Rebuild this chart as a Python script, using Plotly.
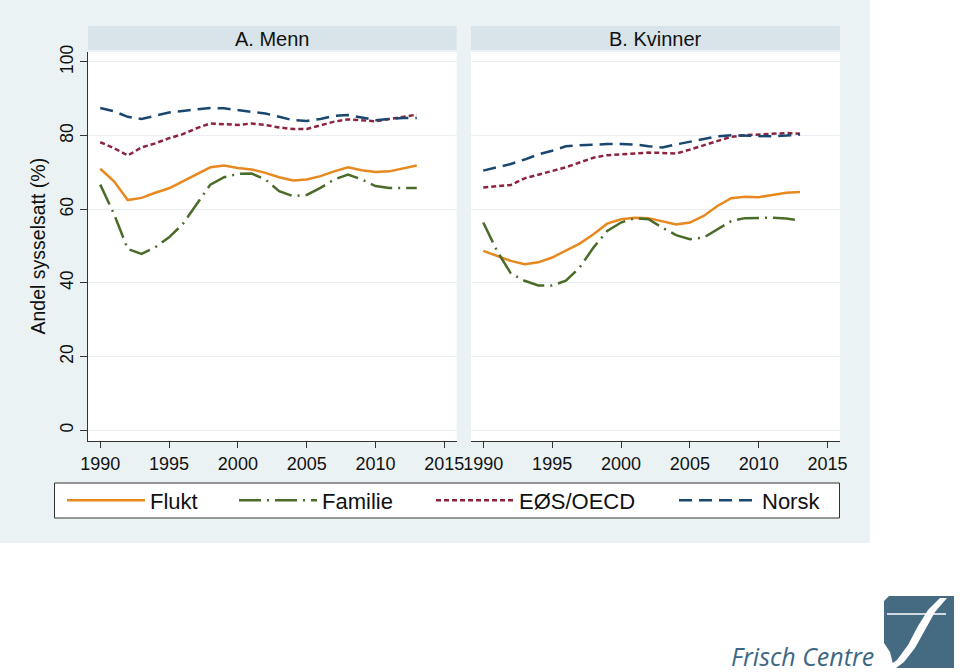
import plotly.graph_objects as go

years = list(range(1990, 2014))

menn_flukt = [71.0, 67.6, 62.5, 63.1, 64.5, 65.7, 67.6, 69.4, 71.4, 71.9, 71.2, 70.8,
              69.9, 68.7, 67.8, 68.1, 69.0, 70.3, 71.4, 70.6, 70.1, 70.3, 71.2, 71.9]
menn_familie = [66.7, 58.7, 49.2, 47.9, 49.7, 52.4, 56.0, 61.3, 66.7, 68.7, 69.6, 69.7,
                68.1, 64.9, 63.6, 63.9, 65.8, 68.1, 69.4, 68.1, 66.3, 65.8, 65.8, 65.8]
menn_eos = [78.2, 76.6, 74.6, 76.8, 77.9, 79.3, 80.4, 82.0, 83.3, 83.0, 82.9, 83.3,
            82.9, 82.2, 81.8, 81.8, 82.9, 83.8, 84.4, 84.2, 83.9, 84.5, 85.1, 85.7]
menn_norsk = [87.5, 86.6, 85.1, 84.5, 85.4, 86.3, 86.7, 87.2, 87.5, 87.4, 86.9, 86.6,
              86.0, 85.1, 84.2, 84.0, 84.5, 85.4, 85.6, 84.9, 84.2, 84.5, 84.8, 84.8]

kvinner_flukt = [48.7, 47.4, 46.0, 45.1, 45.6, 46.9, 48.7, 50.7, 53.2, 56.1, 57.3, 57.7,
                 57.6, 56.8, 55.9, 56.4, 58.2, 60.9, 63.0, 63.4, 63.3, 63.9, 64.5, 64.7]
kvinner_familie = [56.4, 48.7, 42.6, 40.6, 39.3, 39.3, 40.6, 44.2, 49.6, 54.1, 56.4, 57.6,
                   57.3, 55.0, 53.0, 51.9, 52.3, 54.6, 56.8, 57.6, 57.7, 57.7, 57.5, 57.0]
kvinner_eos = [65.9, 66.3, 66.6, 68.4, 69.5, 70.4, 71.4, 72.8, 74.0, 74.7, 75.0, 75.3,
               75.4, 75.3, 75.1, 76.2, 77.4, 78.5, 79.7, 80.1, 80.3, 80.5, 80.7, 80.5]
kvinner_norsk = [70.5, 71.4, 72.3, 73.5, 74.9, 75.9, 77.1, 77.4, 77.6, 77.7, 77.7, 77.6,
                 77.1, 76.8, 77.6, 78.3, 79.2, 79.8, 80.1, 80.0, 79.8, 79.8, 80.0, 80.3]

series_names = ["Flukt", "Familie", "EØS/OECD", "Norsk"]
panel_titles = ["A. Menn", "B. Kvinner"]
x_ticks = [1990, 1995, 2000, 2005, 2010, 2015]
y_ticks = [0, 20, 40, 60, 80, 100]
y_title = "Andel sysselsatt (%)"
logo_text = "Frisch Centre"

panels = [
    [menn_flukt, menn_familie, menn_eos, menn_norsk],
    [kvinner_flukt, kvinner_familie, kvinner_eos, kvinner_norsk],
]

colors = ["#E8891F", "#4B6B28", "#8C2440", "#1A476F"]
dashes = ["solid", "22px,6px,2px,6px", "5px,3px", "13px,7px"]

FONT = "Liberation Sans, Arial, sans-serif"
W, H = 960, 672
ML, MR, MT, MB = 88, 120, 52, 231
PW = W - ML - MR
PH = H - MT - MB


def X(px):
    return (px - ML) / PW


def Y(py):
    return (H - MB - py) / PH


fig = go.Figure()

legend_ids = ["legend", "legend2", "legend3", "legend4"]
for p, data in enumerate(panels):
    xa = "x" if p == 0 else "x2"
    ya = "y" if p == 0 else "y2"
    for i, vals in enumerate(data):
        fig.add_trace(go.Scatter(
            x=years, y=vals, mode="lines", name=series_names[i],
            line=dict(color=colors[i], width=2.5, dash=dashes[i]),
            xaxis=xa, yaxis=ya, showlegend=(p == 0),
            legend=legend_ids[i], hoverinfo="skip",
        ))

shapes = []
# outer graph region
shapes.append(dict(type="rect", xref="paper", yref="paper", x0=X(0), x1=X(870),
                   y0=Y(543), y1=Y(0), fillcolor="#EAF2F3", line_width=0, layer="below"))
# plot areas (white) and title bars
for (a, b) in [(88, 456.7), (471, 840)]:
    shapes.append(dict(type="rect", xref="paper", yref="paper", x0=X(a), x1=X(b),
                       y0=Y(441), y1=Y(52), fillcolor="white", line_width=0, layer="below"))
    shapes.append(dict(type="rect", xref="paper", yref="paper", x0=X(a), x1=X(b),
                       y0=Y(50), y1=Y(26), fillcolor="#D8E4EA", line_width=0, layer="below"))
# legend box
shapes.append(dict(type="rect", xref="paper", yref="paper", x0=X(54.5), x1=X(839.5),
                   y0=Y(518), y1=Y(483), fillcolor="white",
                   line=dict(color="#333333", width=1), layer="below"))


# logo icon
def P(pts):
    return " ".join(("M" if k == 0 else "L") + f"{X(a):.5f},{Y(b):.5f}"
                    for k, (a, b) in enumerate(pts)) + " Z"


icon = [(889, 596), (954, 596), (954, 668), (884, 668), (884, 601)]
shapes.append(dict(type="path", xref="paper", yref="paper", path=P(icon),
                   fillcolor="#446B82", line_width=0))
swoosh = [(940, 598), (947, 598), (935, 612), (925, 630), (915, 648), (904, 662), (896, 668),
          (886, 668), (897, 660), (908, 645), (918, 626), (928, 610)]
shapes.append(dict(type="path", xref="paper", yref="paper", path=P(swoosh),
                   fillcolor="white", line_width=0))
corner = [(884, 643), (890, 652), (894, 668), (884, 668)]
shapes.append(dict(type="path", xref="paper", yref="paper", path=P(corner),
                   fillcolor="white", line_width=0))
shapes.append(dict(type="line", xref="paper", yref="paper", x0=X(887), x1=X(946),
                   y0=Y(614), y1=Y(614), line=dict(color="white", width=1.5)))

annotations = []
for (a, b), t in zip([(88, 456.7), (471, 840)], panel_titles):
    annotations.append(dict(text=t, x=X((a + b) / 2), y=Y(38.5), xref="paper", yref="paper",
                            showarrow=False, font=dict(family=FONT, size=20, color="#111111"),
                            xanchor="center", yanchor="middle"))
annotations.append(dict(text=y_title, x=X(37), y=Y(246.5), xref="paper", yref="paper",
                        showarrow=False, textangle=-90,
                        font=dict(family=FONT, size=19.5, color="#111111"),
                        xanchor="center", yanchor="middle"))
annotations.append(dict(text="<i>" + logo_text + "</i>", x=X(876), y=Y(656), xref="paper",
                        yref="paper", showarrow=False,
                        font=dict(family="Open Sans, sans-serif", size=25, color="#3D6782"),
                        xanchor="right", yanchor="middle"))

xr = [1989.11, 2015.9]
yr = [-2.9, 102.7]
axis_common = dict(range=xr, tickvals=x_ticks, ticks="outside", ticklen=6, tickcolor="#333333",
                   showline=True, linecolor="#333333", linewidth=1, showgrid=False,
                   zeroline=False, tickfont=dict(family=FONT, size=18, color="#111111"),
                   fixedrange=True)
yaxis_common = dict(range=yr, tickvals=y_ticks, showgrid=True, gridcolor="#E8EEF1", gridwidth=1,
                    zeroline=False, fixedrange=True)

legend_x = [62, 234, 431, 674]
legends = {}
for i, lid in enumerate(legend_ids):
    legends[lid] = dict(x=X(legend_x[i]), y=Y(500.5), xanchor="left", yanchor="middle",
                        orientation="h", bgcolor="rgba(0,0,0,0)", itemwidth=78,
                        font=dict(family=FONT, size=22, color="#111111"))

fig.update_layout(
    width=W, height=H,
    margin=dict(l=ML, r=MR, t=MT, b=MB, autoexpand=False),
    paper_bgcolor="white", plot_bgcolor="white",
    xaxis=dict(domain=[0, X(456.7)], anchor="y", **axis_common),
    xaxis2=dict(domain=[X(471), 1], anchor="y2", **axis_common),
    yaxis=dict(domain=[0, 1], anchor="x", showline=True, linecolor="#333333", linewidth=1,
               ticks="outside", ticklen=7, tickcolor="#333333", tickangle=-90,
               tickfont=dict(family=FONT, size=17.5, color="#111111"), **yaxis_common),
    yaxis2=dict(domain=[0, 1], anchor="x2", showticklabels=False, showline=False, ticks="",
                **yaxis_common),
    shapes=shapes, annotations=annotations,
    **legends,
)

fig.write_html("out.html", config={"displayModeBar": False},
               post_script="document.body.style.margin='0';")
